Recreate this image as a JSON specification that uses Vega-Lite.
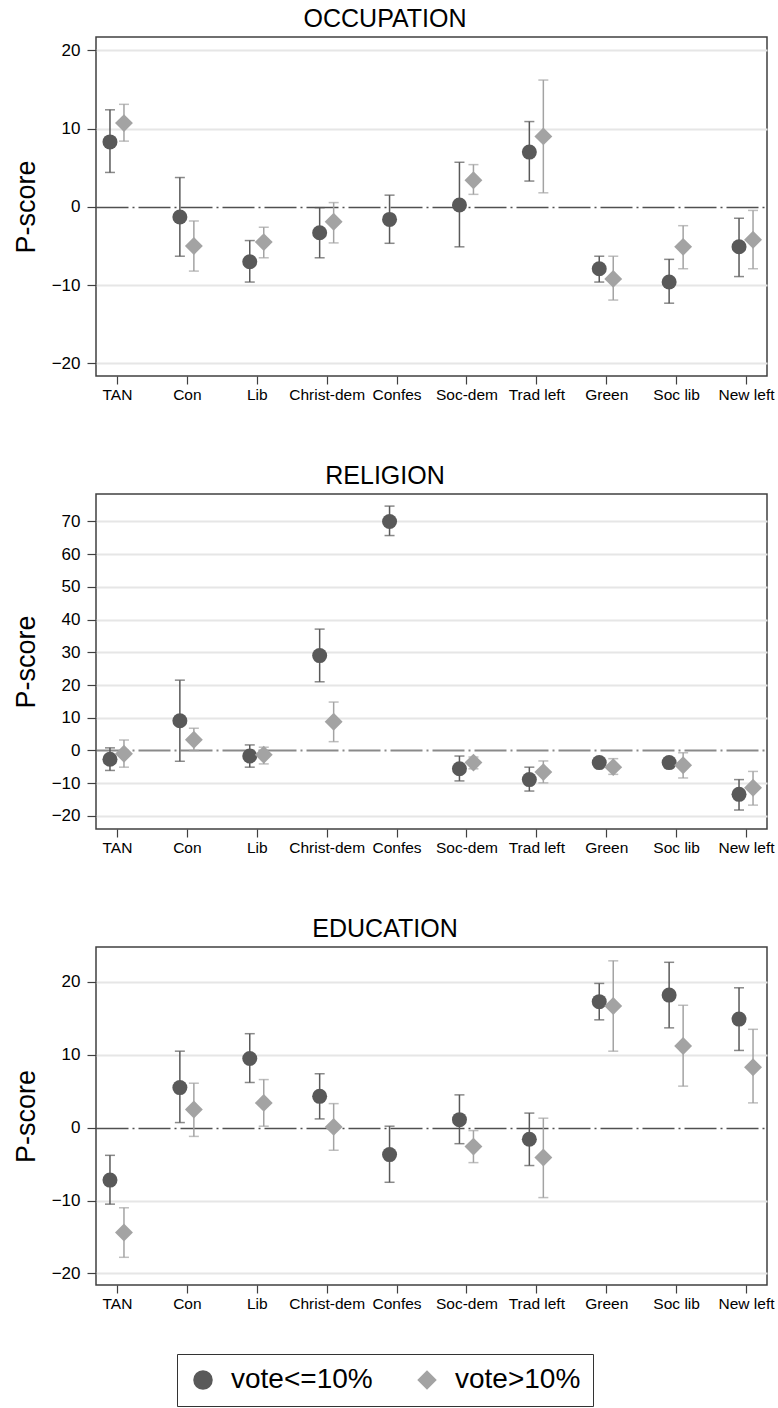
{
  "$schema": "https://vega.github.io/schema/vega-lite/v6.json",
  "padding": {"left": 11, "top": 6, "right": 0, "bottom": 0},
  "background": "white",
  "spacing": 59,
  "config": {
    "font": "Liberation Sans",
    "view": {"stroke": "#404040", "strokeWidth": 1.5},
    "title": {"fontSize": 25, "fontWeight": "normal", "font": "Liberation Sans", "color": "#000000", "offset": 5, "frame": "bounds", "anchor": "middle", "dx": -8},
    "axisX": {"labelFontSize": 15.5, "labelFont": "Liberation Sans", "labelColor": "#000000", "tickSize": 8, "tickColor": "#404040", "tickWidth": 1.2, "domain": false, "grid": false, "labelAngle": 0, "labelPadding": 3, "title": null},
    "axisY": {"labelFontSize": 17, "labelFont": "Liberation Sans", "labelColor": "#000000", "tickSize": 9, "tickColor": "#404040", "tickWidth": 1.2, "domain": false, "labelPadding": 7, "titleFontSize": 27, "titleFontWeight": "normal", "titleFont": "Liberation Sans", "titleColor": "#000000", "minExtent": 42, "maxExtent": 42, "titlePadding": 14},
    "legend": {"labelFontSize": 28, "labelFont": "Liberation Sans", "labelColor": "#000000", "symbolSize": 380, "strokeColor": "#333333", "padding": 12, "labelOffset": 14, "columnPadding": 40, "symbolStrokeWidth": 0, "symbolOpacity": 1}
  },
  "data": {"values": [
    {"panel": "OCCUPATION", "party": "TAN", "group": "vote<=10%", "est": 8.3, "lo": 4.4, "hi": 12.4},
    {"panel": "OCCUPATION", "party": "TAN", "group": "vote>10%", "est": 10.7, "lo": 8.4, "hi": 13.1},
    {"panel": "OCCUPATION", "party": "Con", "group": "vote<=10%", "est": -1.3, "lo": -6.3, "hi": 3.75},
    {"panel": "OCCUPATION", "party": "Con", "group": "vote>10%", "est": -5.0, "lo": -8.2, "hi": -1.8},
    {"panel": "OCCUPATION", "party": "Lib", "group": "vote<=10%", "est": -7.0, "lo": -9.6, "hi": -4.3},
    {"panel": "OCCUPATION", "party": "Lib", "group": "vote>10%", "est": -4.5, "lo": -6.5, "hi": -2.6},
    {"panel": "OCCUPATION", "party": "Christ-dem", "group": "vote<=10%", "est": -3.3, "lo": -6.5, "hi": -0.1},
    {"panel": "OCCUPATION", "party": "Christ-dem", "group": "vote>10%", "est": -1.9, "lo": -4.6, "hi": 0.55},
    {"panel": "OCCUPATION", "party": "Confes", "group": "vote<=10%", "est": -1.6, "lo": -4.65, "hi": 1.5},
    {"panel": "OCCUPATION", "party": "Soc-dem", "group": "vote<=10%", "est": 0.25, "lo": -5.1, "hi": 5.7},
    {"panel": "OCCUPATION", "party": "Soc-dem", "group": "vote>10%", "est": 3.4, "lo": 1.6, "hi": 5.4},
    {"panel": "OCCUPATION", "party": "Trad left", "group": "vote<=10%", "est": 7.0, "lo": 3.3, "hi": 10.9},
    {"panel": "OCCUPATION", "party": "Trad left", "group": "vote>10%", "est": 9.0, "lo": 1.8, "hi": 16.2},
    {"panel": "OCCUPATION", "party": "Green", "group": "vote<=10%", "est": -7.9, "lo": -9.6, "hi": -6.3},
    {"panel": "OCCUPATION", "party": "Green", "group": "vote>10%", "est": -9.2, "lo": -11.9, "hi": -6.3},
    {"panel": "OCCUPATION", "party": "Soc lib", "group": "vote<=10%", "est": -9.6, "lo": -12.3, "hi": -6.7},
    {"panel": "OCCUPATION", "party": "Soc lib", "group": "vote>10%", "est": -5.1, "lo": -7.9, "hi": -2.4},
    {"panel": "OCCUPATION", "party": "New left", "group": "vote<=10%", "est": -5.1, "lo": -8.9, "hi": -1.45},
    {"panel": "OCCUPATION", "party": "New left", "group": "vote>10%", "est": -4.2, "lo": -7.9, "hi": -0.45},

    {"panel": "RELIGION", "party": "TAN", "group": "vote<=10%", "est": -2.7, "lo": -6.1, "hi": 0.8},
    {"panel": "RELIGION", "party": "TAN", "group": "vote>10%", "est": -1.0, "lo": -5.1, "hi": 3.2},
    {"panel": "RELIGION", "party": "Con", "group": "vote<=10%", "est": 9.1, "lo": -3.3, "hi": 21.5},
    {"panel": "RELIGION", "party": "Con", "group": "vote>10%", "est": 3.3, "lo": 0.0, "hi": 6.8},
    {"panel": "RELIGION", "party": "Lib", "group": "vote<=10%", "est": -1.7, "lo": -5.1, "hi": 1.7},
    {"panel": "RELIGION", "party": "Lib", "group": "vote>10%", "est": -1.3, "lo": -4.1, "hi": 1.0},
    {"panel": "RELIGION", "party": "Christ-dem", "group": "vote<=10%", "est": 29.0, "lo": 21.0, "hi": 37.1},
    {"panel": "RELIGION", "party": "Christ-dem", "group": "vote>10%", "est": 8.8, "lo": 2.7, "hi": 14.8},
    {"panel": "RELIGION", "party": "Confes", "group": "vote<=10%", "est": 70.0, "lo": 65.7, "hi": 74.7},
    {"panel": "RELIGION", "party": "Soc-dem", "group": "vote<=10%", "est": -5.6, "lo": -9.3, "hi": -1.7},
    {"panel": "RELIGION", "party": "Soc-dem", "group": "vote>10%", "est": -3.7, "lo": -5.6, "hi": -2.0},
    {"panel": "RELIGION", "party": "Trad left", "group": "vote<=10%", "est": -8.9, "lo": -12.4, "hi": -5.1},
    {"panel": "RELIGION", "party": "Trad left", "group": "vote>10%", "est": -6.6, "lo": -9.9, "hi": -3.2},
    {"panel": "RELIGION", "party": "Green", "group": "vote<=10%", "est": -3.7, "lo": -5.1, "hi": -2.5},
    {"panel": "RELIGION", "party": "Green", "group": "vote>10%", "est": -5.1, "lo": -7.3, "hi": -2.5},
    {"panel": "RELIGION", "party": "Soc lib", "group": "vote<=10%", "est": -3.7, "lo": -5.3, "hi": -2.5},
    {"panel": "RELIGION", "party": "Soc lib", "group": "vote>10%", "est": -4.5, "lo": -8.4, "hi": -0.7},
    {"panel": "RELIGION", "party": "New left", "group": "vote<=10%", "est": -13.4, "lo": -18.2, "hi": -8.9},
    {"panel": "RELIGION", "party": "New left", "group": "vote>10%", "est": -11.4, "lo": -16.7, "hi": -6.4},

    {"panel": "EDUCATION", "party": "TAN", "group": "vote<=10%", "est": -7.2, "lo": -10.5, "hi": -3.8},
    {"panel": "EDUCATION", "party": "TAN", "group": "vote>10%", "est": -14.4, "lo": -17.8, "hi": -11.0},
    {"panel": "EDUCATION", "party": "Con", "group": "vote<=10%", "est": 5.5, "lo": 0.7, "hi": 10.5},
    {"panel": "EDUCATION", "party": "Con", "group": "vote>10%", "est": 2.5, "lo": -1.2, "hi": 6.1},
    {"panel": "EDUCATION", "party": "Lib", "group": "vote<=10%", "est": 9.5, "lo": 6.2, "hi": 12.9},
    {"panel": "EDUCATION", "party": "Lib", "group": "vote>10%", "est": 3.4, "lo": 0.2, "hi": 6.6},
    {"panel": "EDUCATION", "party": "Christ-dem", "group": "vote<=10%", "est": 4.3, "lo": 1.2, "hi": 7.4},
    {"panel": "EDUCATION", "party": "Christ-dem", "group": "vote>10%", "est": 0.1, "lo": -3.1, "hi": 3.3},
    {"panel": "EDUCATION", "party": "Confes", "group": "vote<=10%", "est": -3.7, "lo": -7.5, "hi": 0.2},
    {"panel": "EDUCATION", "party": "Soc-dem", "group": "vote<=10%", "est": 1.1, "lo": -2.2, "hi": 4.5},
    {"panel": "EDUCATION", "party": "Soc-dem", "group": "vote>10%", "est": -2.6, "lo": -4.8, "hi": -0.4},
    {"panel": "EDUCATION", "party": "Trad left", "group": "vote<=10%", "est": -1.6, "lo": -5.2, "hi": 2.0},
    {"panel": "EDUCATION", "party": "Trad left", "group": "vote>10%", "est": -4.1, "lo": -9.6, "hi": 1.3},
    {"panel": "EDUCATION", "party": "Green", "group": "vote<=10%", "est": 17.3, "lo": 14.8, "hi": 19.8},
    {"panel": "EDUCATION", "party": "Green", "group": "vote>10%", "est": 16.7, "lo": 10.5, "hi": 22.9},
    {"panel": "EDUCATION", "party": "Soc lib", "group": "vote<=10%", "est": 18.2, "lo": 13.7, "hi": 22.7},
    {"panel": "EDUCATION", "party": "Soc lib", "group": "vote>10%", "est": 11.2, "lo": 5.7, "hi": 16.8},
    {"panel": "EDUCATION", "party": "New left", "group": "vote<=10%", "est": 14.9, "lo": 10.6, "hi": 19.2},
    {"panel": "EDUCATION", "party": "New left", "group": "vote>10%", "est": 8.3, "lo": 3.4, "hi": 13.5}
  ]},
  "vconcat": [
    {
      "title": {"text": "OCCUPATION"},
      "width": 671, "height": 339,
      "transform": [{"filter": "datum.panel === 'OCCUPATION'"}],
      "encoding": {
        "x": {"field": "party", "type": "nominal", "scale": {"type": "point", "domain": ["TAN","Con","Lib","Christ-dem","Confes","Soc-dem","Trad left","Green","Soc lib","New left"], "padding": 0.3}, "axis": {"title": null}},
        "y": {"field": "est", "type": "quantitative", "scale": {"domain": [-21.6, 21.7], "nice": false, "zero": false}, "axis": {"title": "P-score", "values": [-20,-10,0,10,20], "grid": true, "gridColor": {"condition": {"test": "datum.value === 0", "value": "#505050"}, "value": "#e6e6e6"}, "gridWidth": {"condition": {"test": "datum.value === 0", "value": 1.5}, "value": 2}, "gridDash": {"condition": {"test": "datum.value === 0", "value": [32,4,2,4]}, "value": []}}}
      },
      "layer": [
        {"transform": [{"filter": "datum.group === 'vote<=10%'"}],
         "layer": [
          {"mark": {"type": "rule", "strokeWidth": 1.5, "xOffset": -7, "color": "#595959"}, "encoding": {"y": {"field": "lo", "type": "quantitative"}, "y2": {"field": "hi"}}},
          {"mark": {"type": "tick", "size": 10, "thickness": 1.5, "xOffset": -7, "color": "#595959"}, "encoding": {"y": {"field": "lo", "type": "quantitative"}}},
          {"mark": {"type": "tick", "size": 10, "thickness": 1.5, "xOffset": -7, "color": "#595959"}, "encoding": {"y": {"field": "hi", "type": "quantitative"}}},
          {"mark": {"type": "point", "filled": true, "opacity": 1, "size": 225, "xOffset": -7},
           "encoding": {
             "color": {"field": "group", "type": "nominal", "scale": {"domain": ["vote<=10%","vote>10%"], "range": ["#595959","#a3a3a3"]}, "legend": {"title": null, "orient": "none", "legendX": 81, "legendY": 1317, "direction": "horizontal", "columns": 2}},
             "shape": {"field": "group", "type": "nominal", "scale": {"domain": ["vote<=10%","vote>10%"], "range": ["circle","diamond"]}, "legend": {"title": null, "orient": "none", "legendX": 81, "legendY": 1317, "direction": "horizontal", "columns": 2}}
           }}
         ]},
        {"transform": [{"filter": "datum.group === 'vote>10%'"}],
         "layer": [
          {"mark": {"type": "rule", "strokeWidth": 1.5, "xOffset": 7, "color": "#a3a3a3"}, "encoding": {"y": {"field": "lo", "type": "quantitative"}, "y2": {"field": "hi"}}},
          {"mark": {"type": "tick", "size": 10, "thickness": 1.5, "xOffset": 7, "color": "#a3a3a3"}, "encoding": {"y": {"field": "lo", "type": "quantitative"}}},
          {"mark": {"type": "tick", "size": 10, "thickness": 1.5, "xOffset": 7, "color": "#a3a3a3"}, "encoding": {"y": {"field": "hi", "type": "quantitative"}}},
          {"mark": {"type": "point", "filled": true, "opacity": 1, "size": 320, "xOffset": 7},
           "encoding": {"color": {"field": "group", "type": "nominal"}, "shape": {"field": "group", "type": "nominal"}}}
         ]}
      ]
    },
    {
      "title": {"text": "RELIGION"},
      "width": 671, "height": 335,
      "transform": [{"filter": "datum.panel === 'RELIGION'"}],
      "encoding": {
        "x": {"field": "party", "type": "nominal", "scale": {"type": "point", "domain": ["TAN","Con","Lib","Christ-dem","Confes","Soc-dem","Trad left","Green","Soc lib","New left"], "padding": 0.3}, "axis": {"title": null}},
        "y": {"field": "est", "type": "quantitative", "scale": {"domain": [-24.0, 78.4], "nice": false, "zero": false}, "axis": {"title": "P-score", "values": [-20,-10,0,10,20,30,40,50,60,70], "grid": true, "gridColor": {"condition": {"test": "datum.value === 0", "value": "#8a8a8a"}, "value": "#e6e6e6"}, "gridWidth": 2, "gridDash": {"condition": {"test": "datum.value === 0", "value": [32,4,2,4]}, "value": []}}}
      },
      "layer": [
        {"transform": [{"filter": "datum.group === 'vote<=10%'"}],
         "layer": [
          {"mark": {"type": "rule", "strokeWidth": 1.5, "xOffset": -7, "color": "#595959"}, "encoding": {"y": {"field": "lo", "type": "quantitative"}, "y2": {"field": "hi"}}},
          {"mark": {"type": "tick", "size": 10, "thickness": 1.5, "xOffset": -7, "color": "#595959"}, "encoding": {"y": {"field": "lo", "type": "quantitative"}}},
          {"mark": {"type": "tick", "size": 10, "thickness": 1.5, "xOffset": -7, "color": "#595959"}, "encoding": {"y": {"field": "hi", "type": "quantitative"}}},
          {"mark": {"type": "point", "filled": true, "opacity": 1, "size": 225, "xOffset": -7},
           "encoding": {"color": {"field": "group", "type": "nominal"}, "shape": {"field": "group", "type": "nominal"}}}
         ]},
        {"transform": [{"filter": "datum.group === 'vote>10%'"}],
         "layer": [
          {"mark": {"type": "rule", "strokeWidth": 1.5, "xOffset": 7, "color": "#a3a3a3"}, "encoding": {"y": {"field": "lo", "type": "quantitative"}, "y2": {"field": "hi"}}},
          {"mark": {"type": "tick", "size": 10, "thickness": 1.5, "xOffset": 7, "color": "#a3a3a3"}, "encoding": {"y": {"field": "lo", "type": "quantitative"}}},
          {"mark": {"type": "tick", "size": 10, "thickness": 1.5, "xOffset": 7, "color": "#a3a3a3"}, "encoding": {"y": {"field": "hi", "type": "quantitative"}}},
          {"mark": {"type": "point", "filled": true, "opacity": 1, "size": 320, "xOffset": 7},
           "encoding": {"color": {"field": "group", "type": "nominal"}, "shape": {"field": "group", "type": "nominal"}}}
         ]}
      ]
    },
    {
      "title": {"text": "EDUCATION"},
      "width": 671, "height": 338,
      "transform": [{"filter": "datum.panel === 'EDUCATION'"}],
      "encoding": {
        "x": {"field": "party", "type": "nominal", "scale": {"type": "point", "domain": ["TAN","Con","Lib","Christ-dem","Confes","Soc-dem","Trad left","Green","Soc lib","New left"], "padding": 0.3}, "axis": {"title": null}},
        "y": {"field": "est", "type": "quantitative", "scale": {"domain": [-21.6, 24.8], "nice": false, "zero": false}, "axis": {"title": "P-score", "values": [-20,-10,0,10,20], "grid": true, "gridColor": {"condition": {"test": "datum.value === 0", "value": "#505050"}, "value": "#e6e6e6"}, "gridWidth": {"condition": {"test": "datum.value === 0", "value": 1.5}, "value": 2}, "gridDash": {"condition": {"test": "datum.value === 0", "value": [32,4,2,4]}, "value": []}}}
      },
      "layer": [
        {"transform": [{"filter": "datum.group === 'vote<=10%'"}],
         "layer": [
          {"mark": {"type": "rule", "strokeWidth": 1.5, "xOffset": -7, "color": "#595959"}, "encoding": {"y": {"field": "lo", "type": "quantitative"}, "y2": {"field": "hi"}}},
          {"mark": {"type": "tick", "size": 10, "thickness": 1.5, "xOffset": -7, "color": "#595959"}, "encoding": {"y": {"field": "lo", "type": "quantitative"}}},
          {"mark": {"type": "tick", "size": 10, "thickness": 1.5, "xOffset": -7, "color": "#595959"}, "encoding": {"y": {"field": "hi", "type": "quantitative"}}},
          {"mark": {"type": "point", "filled": true, "opacity": 1, "size": 225, "xOffset": -7},
           "encoding": {"color": {"field": "group", "type": "nominal"}, "shape": {"field": "group", "type": "nominal"}}}
         ]},
        {"transform": [{"filter": "datum.group === 'vote>10%'"}],
         "layer": [
          {"mark": {"type": "rule", "strokeWidth": 1.5, "xOffset": 7, "color": "#a3a3a3"}, "encoding": {"y": {"field": "lo", "type": "quantitative"}, "y2": {"field": "hi"}}},
          {"mark": {"type": "tick", "size": 10, "thickness": 1.5, "xOffset": 7, "color": "#a3a3a3"}, "encoding": {"y": {"field": "lo", "type": "quantitative"}}},
          {"mark": {"type": "tick", "size": 10, "thickness": 1.5, "xOffset": 7, "color": "#a3a3a3"}, "encoding": {"y": {"field": "hi", "type": "quantitative"}}},
          {"mark": {"type": "point", "filled": true, "opacity": 1, "size": 320, "xOffset": 7},
           "encoding": {"color": {"field": "group", "type": "nominal"}, "shape": {"field": "group", "type": "nominal"}}}
         ]}
      ]
    }
  ]
}
